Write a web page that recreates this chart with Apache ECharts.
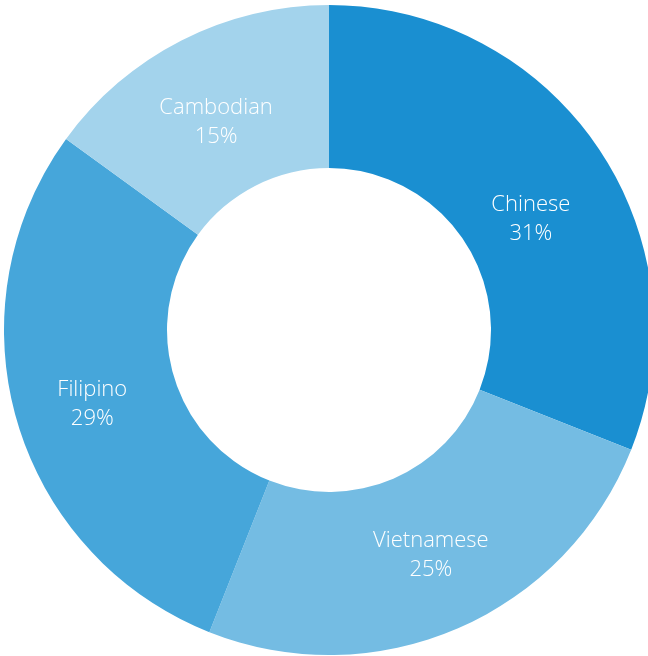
<!DOCTYPE html>
<html><head><meta charset="utf-8">
<script src="https://cdn.jsdelivr.net/npm/echarts@6/dist/echarts.min.js"></script>
<style>html,body{margin:0;padding:0;background:#fff}#c{width:648px;height:656px}</style>
</head><body><div id="c"></div>
<script>
const categories = ["Chinese", "Vietnamese", "Filipino", "Cambodian"];
const values = [31, 25, 29, 15];
const colors = ["#1a8fd1", "#74bce3", "#46a6da", "#a3d3ec"];
const labelOffsets = [[-2, 28], [4, -1], [0, 5], [-1, 12]];
const chart = echarts.init(document.getElementById('c'));
chart.setOption({
  animation: false,
  series: [{
    type: 'pie',
    center: [329, 330],
    radius: [162, 325],
    startAngle: 90,
    clockwise: true,
    itemStyle: { borderWidth: 0 },
    label: {
      show: true,
      position: 'inside',
      color: '#fff',
      fontFamily: 'Open Sans',
      fontWeight: 300,
      fontSize: 22,
      lineHeight: 29,
      formatter: p => p.name + '\n' + p.value + '%'
    },
    labelLine: { show: false },
    data: categories.map((c, i) => ({ name: c, value: values[i], itemStyle: { color: colors[i] }, label: { offset: labelOffsets[i] } }))
  }]
});
</script></body></html>
